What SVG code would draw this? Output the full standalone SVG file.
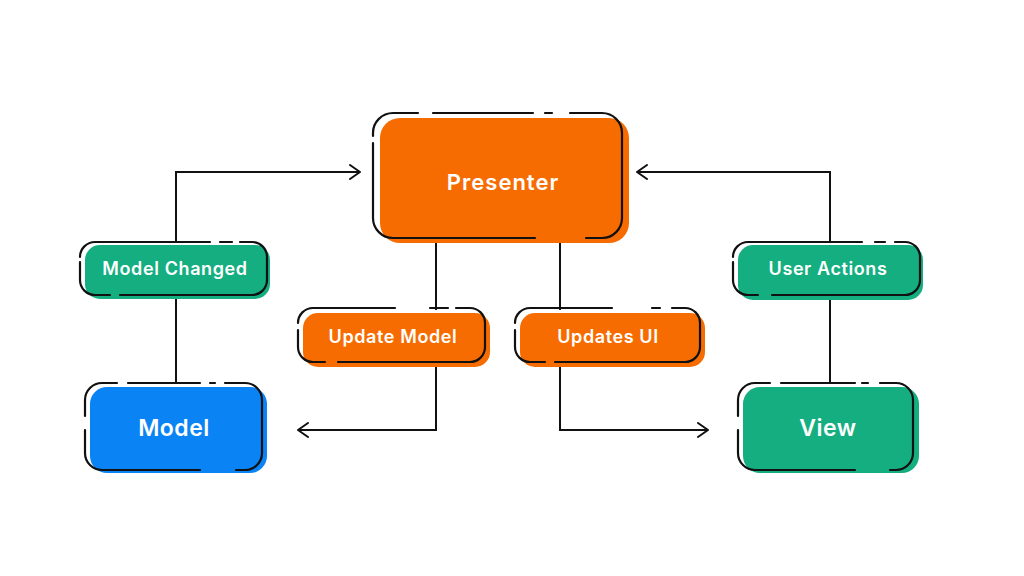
<svg xmlns="http://www.w3.org/2000/svg" width="1024" height="576" viewBox="0 0 1024 576">
<defs>
<style>
.or{fill:#F66C00}.gr{fill:#14AE80}.bl{fill:#0A83F5}
.ol{fill:none;stroke:#111;stroke-width:2.2;stroke-linecap:round}
.ln{fill:none;stroke:#111;stroke-width:2}
.t{font-family:Inter,"Noto Sans",sans-serif;font-weight:600;fill:#fff;text-anchor:middle;dominant-baseline:central}
.s{font-size:18px;letter-spacing:0.6px}
</style>
<marker id="ah" viewBox="0 0 12 16" refX="11" refY="8" markerWidth="12" markerHeight="16" markerUnits="userSpaceOnUse" orient="auto">
<path d="M1,1 L11,8 L1,15" fill="none" stroke="#111" stroke-width="2" stroke-linecap="round" stroke-linejoin="round"/>
</marker>
</defs>
<g id="connectors">
<path class="ln" d="M176,242 V172 H360" marker-end="url(#ah)"/>
<path class="ln" d="M176,295 V383"/>
<path class="ln" d="M830,242 V172 H637" marker-end="url(#ah)"/>
<path class="ln" d="M830,295 V383"/>
<path class="ln" d="M436,240 V310"/>
<path class="ln" d="M436,362 V430 H298" marker-end="url(#ah)"/>
<path class="ln" d="M560,240 V310"/>
<path class="ln" d="M560,362 V430 H708" marker-end="url(#ah)"/>
</g>
<g id="presenter">
<rect class="or" x="380" y="118" width="249" height="125" rx="20"/>
<path class="ol" d="M373,143 V218 A20,20 0 0 0 393,238 H535 M586,238 H602 A20,20 0 0 0 622,218 V133 A20,20 0 0 0 602,113 H570 M552,113 H545 M533,113 H433 M418,113 H393 A20,20 0 0 0 373,133 V136"/>
<text class="t" x="503" y="182" font-size="22" letter-spacing="1">Presenter</text>
</g>
<g id="model-changed">
<rect class="gr" x="85" y="245" width="185" height="54" rx="15"/>
<path class="ol" d="M80,262 V280 A15,15 0 0 0 95,295 H110 M120,295 H252 A15,15 0 0 0 267,280 V257 A15,15 0 0 0 252,242 H240 M232,242 H220 M210,242 H95 A15,15 0 0 0 80,257"/>
<text class="t s" x="175" y="268">Model Changed</text>
</g>
<g id="update-model">
<rect class="or" x="303" y="313" width="187" height="54" rx="15"/>
<path class="ol" d="M298,330 V347 A15,15 0 0 0 313,362 H325 M338,362 H470 A15,15 0 0 0 485,347 V323 A15,15 0 0 0 470,308 H456 M448,308 H430 M395,308 H313 A15,15 0 0 0 298,323"/>
<text class="t s" x="393" y="336">Update Model</text>
</g>
<g id="updates-ui">
<rect class="or" x="520" y="313" width="185" height="54" rx="15"/>
<path class="ol" d="M515,330 V347 A15,15 0 0 0 530,362 H545 M555,362 H685 A15,15 0 0 0 700,347 V323 A15,15 0 0 0 685,308 H672 M660,308 H652 M612,308 H530 A15,15 0 0 0 515,323"/>
<text class="t s" x="608" y="336">Updates UI</text>
</g>
<g id="user-actions">
<rect class="gr" x="738" y="245" width="185" height="55" rx="15"/>
<path class="ol" d="M733,262 V280 A15,15 0 0 0 748,295 H758 M772,295 H905 A15,15 0 0 0 920,280 V257 A15,15 0 0 0 905,242 H895 M885,242 H875 M862,242 H748 A15,15 0 0 0 733,257"/>
<text class="t s" x="828" y="268">User Actions</text>
</g>
<g id="model">
<rect class="bl" x="90" y="387" width="177" height="86" rx="17"/>
<path class="ol" d="M85,430 V453 A17,17 0 0 0 102,470 H200 M236,470 H245 A17,17 0 0 0 262,453 V400 A17,17 0 0 0 245,383 H225 M215,383 H210 M200,383 H128 M117,383 H102 A17,17 0 0 0 85,400 V416"/>
<text class="t" x="174" y="428" font-size="23" letter-spacing="0.5">Model</text>
</g>
<g id="view">
<rect class="gr" x="743" y="387" width="176" height="86" rx="17"/>
<path class="ol" d="M738,430 V453 A17,17 0 0 0 755,470 H855 M890,470 H896 A17,17 0 0 0 913,453 V400 A17,17 0 0 0 896,383 H880 M868,383 H862 M855,383 H781 M770,383 H755 A17,17 0 0 0 738,400 V416"/>
<text class="t" x="828" y="428" font-size="23" letter-spacing="0.5">View</text>
</g>
</svg>
